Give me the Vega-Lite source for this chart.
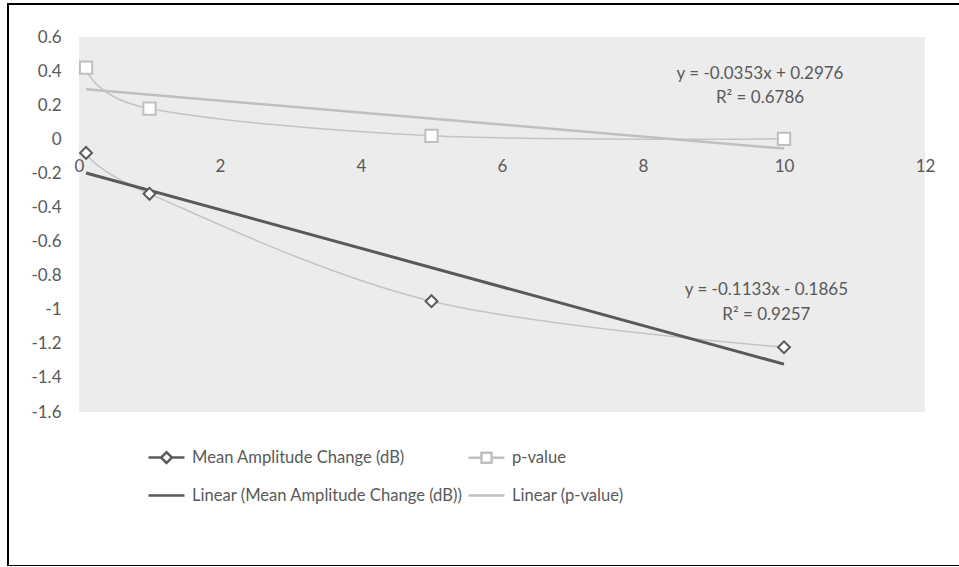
{
  "$schema": "https://vega.github.io/schema/vega-lite/v6.json",
  "autosize": {"type": "none"},
  "padding": {"left": 8, "top": 4, "right": 0, "bottom": 0},
  "width": 952,
  "height": 562,
  "background": "white",
  "config": {
    "view": {"stroke": "#000000", "strokeWidth": 2, "fill": "white"},
    "font": "Lato",
    "axis": {"grid": false, "ticks": false, "tickSize": 0, "domain": false, "labelFont": "Lato", "labelFontSize": 17, "labelColor": "#595959", "title": null}
  },
  "datasets": {
    "pts": [
      {"x": 0.1, "y": -0.08, "series": "Mean Amplitude Change (dB)"},
      {"x": 1, "y": -0.32, "series": "Mean Amplitude Change (dB)"},
      {"x": 5, "y": -0.95, "series": "Mean Amplitude Change (dB)"},
      {"x": 10, "y": -1.22, "series": "Mean Amplitude Change (dB)"},
      {"x": 0.1, "y": 0.42, "series": "p-value"},
      {"x": 1, "y": 0.18, "series": "p-value"},
      {"x": 5, "y": 0.02, "series": "p-value"},
      {"x": 10, "y": 0.003, "series": "p-value"}
    ],
    "bg": [{"x": 0, "x2": 12, "y": -1.6, "y2": 0.6}],
    "eq": [
      {"x": 9.66, "y": 0.385, "label": "y = -0.0353x + 0.2976"},
      {"x": 9.66, "y": 0.24, "label": "R² = 0.6786"},
      {"x": 9.75, "y": -0.885, "label": "y = -0.1133x - 0.1865"},
      {"x": 9.75, "y": -1.03, "label": "R² = 0.9257"}
    ]
  },
  "layer": [
    {
      "data": {"name": "bg"},
      "mark": {"type": "rect", "fill": "#ececec"},
      "encoding": {
        "x": {"field": "x", "type": "quantitative",
          "scale": {"domain": [0, 12], "range": [71, 917], "nice": false, "zero": false},
          "axis": {"orient": "bottom", "values": [0, 2, 4, 6, 8, 10, 12], "offset": -427, "labelPadding": 19, "labelExpr": "'' + datum.value", "labelOverlap": false, "labelFlush": false, "zindex": 2}},
        "x2": {"field": "x2"},
        "y": {"field": "y", "type": "quantitative",
          "scale": {"domain": [-1.6, 0.6], "range": [408, 33], "nice": false, "zero": false},
          "axis": {"orient": "left", "values": [-1.6, -1.4, -1.2, -1, -0.8, -0.6, -0.4, -0.2, 0, 0.2, 0.4, 0.6], "offset": -53, "labelPadding": 0, "labelExpr": "'' + round(datum.value * 10) / 10", "labelOverlap": false, "labelFlush": false}},
        "y2": {"field": "y2"}
      }
    },
    {
      "data": {"name": "pts"},
      "mark": {"type": "line", "interpolate": "cardinal", "stroke": "#c4c4c4", "strokeWidth": 1.5},
      "encoding": {
        "x": {"field": "x", "type": "quantitative"},
        "y": {"field": "y", "type": "quantitative"},
        "detail": {"field": "series"}
      }
    },
    {
      "data": {"name": "pts"},
      "transform": [{"filter": "datum.series == 'p-value'"}, {"regression": "y", "on": "x"}],
      "mark": {"type": "line", "stroke": "#bfbfbf", "strokeWidth": 2.5},
      "encoding": {
        "x": {"field": "x", "type": "quantitative"},
        "y": {"field": "y", "type": "quantitative"}
      }
    },
    {
      "data": {"name": "pts"},
      "transform": [{"filter": "datum.series == 'Mean Amplitude Change (dB)'"}, {"regression": "y", "on": "x"}],
      "mark": {"type": "line", "stroke": "#595959", "strokeWidth": 3},
      "encoding": {
        "x": {"field": "x", "type": "quantitative"},
        "y": {"field": "y", "type": "quantitative"}
      }
    },
    {
      "data": {"name": "pts"},
      "mark": {"type": "point", "filled": false, "strokeWidth": 2.5, "opacity": 0},
      "encoding": {
        "x": {"field": "x", "type": "quantitative"},
        "y": {"field": "y", "type": "quantitative"},
        "shape": {"field": "series", "type": "nominal",
          "scale": {"domain": ["Mean Amplitude Change (dB)", "p-value", "Linear (Mean Amplitude Change (dB))", "Linear (p-value)"],
            "range": ["M-1,0H-0.3M0.3,0H1M0,-0.3L0.3,0L0,0.3L-0.3,0Z", "M-1,0H-0.3M0.3,0H1M-0.28,-0.28H0.28V0.28H-0.28Z", "M-1,0H1", "M-1,0H1"]},
          "legend": {"title": null, "orient": "none", "legendX": 139, "legendY": 434, "columns": 2, "direction": "horizontal", "symbolSize": 1296, "symbolStrokeWidth": 2.5, "symbolOpacity": 1, "labelFont": "Lato", "labelFontSize": 16.6, "labelColor": "#595959", "labelLimit": 500, "rowPadding": 8, "columnPadding": 0, "labelOffset": 6, "padding": 0}},
        "stroke": {"field": "series", "type": "nominal",
          "scale": {"domain": ["Mean Amplitude Change (dB)", "p-value", "Linear (Mean Amplitude Change (dB))", "Linear (p-value)"], "range": ["#595959", "#bfbfbf", "#595959", "#bfbfbf"]},
          "legend": {"title": null, "orient": "none", "legendX": 139, "legendY": 434, "columns": 2, "direction": "horizontal", "symbolSize": 1296, "symbolStrokeWidth": 2.5, "symbolOpacity": 1, "labelFont": "Lato", "labelFontSize": 16.6, "labelColor": "#595959", "labelLimit": 500, "rowPadding": 8, "columnPadding": 0, "labelOffset": 6, "padding": 0}}
      }
    },
    {
      "data": {"name": "pts"},
      "transform": [{"filter": "datum.series == 'Mean Amplitude Change (dB)'"}],
      "mark": {"type": "point", "shape": "diamond", "filled": false, "fill": "white", "stroke": "#595959", "strokeWidth": 2, "opacity": 1, "size": 140},
      "encoding": {
        "x": {"field": "x", "type": "quantitative"},
        "y": {"field": "y", "type": "quantitative"}
      }
    },
    {
      "data": {"name": "pts"},
      "transform": [{"filter": "datum.series == 'p-value'"}],
      "mark": {"type": "point", "shape": "square", "filled": false, "fill": "white", "stroke": "#bfbfbf", "strokeWidth": 2, "opacity": 1, "size": 150},
      "encoding": {
        "x": {"field": "x", "type": "quantitative"},
        "y": {"field": "y", "type": "quantitative"}
      }
    },
    {
      "data": {"name": "eq"},
      "mark": {"type": "text", "font": "Lato", "fontSize": 17, "fill": "#595959", "align": "center", "baseline": "middle"},
      "encoding": {
        "x": {"field": "x", "type": "quantitative"},
        "y": {"field": "y", "type": "quantitative"},
        "text": {"field": "label"}
      }
    }
  ]
}
